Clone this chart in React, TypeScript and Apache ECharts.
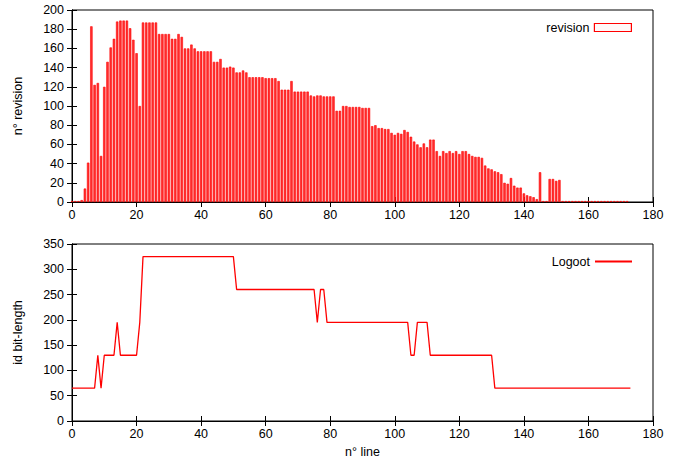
import React, { useEffect, useRef } from "react";
import * as echarts from "echarts";

// revision count per line (line index 0..172)
const revisionValues = [
  1, 1, 1, 2, 14, 41, 183, 122, 124, 48,
  120, 146, 161, 170, 188, 189, 189, 189, 181, 169,
  155, 100, 187, 187, 187, 187, 187, 175, 175, 175,
  175, 170, 170, 175, 172, 160, 160, 164, 160, 157,
  157, 157, 157, 157, 146, 146, 149, 140, 140, 141,
  140, 135, 135, 137, 135, 130, 130, 130, 130, 130,
  129, 129, 129, 129, 126, 117, 117, 117, 126, 115,
  115, 115, 115, 115, 111, 110, 111, 111, 110, 110,
  110, 110, 95, 95, 100, 100, 99, 99, 99, 99,
  98, 98, 98, 79, 80, 77, 77, 76, 76, 72,
  70, 72, 71, 75, 73, 68, 63, 60, 57, 61,
  57, 65, 65, 53, 48, 53, 51, 53, 51, 53,
  50, 53, 53, 50, 48, 47, 47, 46, 38, 35,
  34, 32, 31, 29, 20, 19, 25, 17, 15, 15,
  9, 7, 6, 5, 3, 31, 1, 1, 24, 24,
  22, 23, 1, 1, 1, 1, 1, 1, 1, 1,
  1, 1, 1, 1, 1, 1, 1, 1, 1, 1,
  1, 1, 1,
];

// Logoot id bit-length: breakpoints (line, bits)
const logootLines = [0, 7, 8, 9, 10, 13, 14, 15, 20, 21, 22, 50, 51, 75, 76, 77, 78, 79, 104, 105, 106, 107, 110, 111, 130, 131, 173];
const logootBits = [65, 65, 130, 65, 130, 130, 195, 130, 130, 195, 325, 325, 260, 260, 195, 260, 260, 195, 195, 130, 130, 195, 195, 130, 130, 65, 65];

const FONT = "'Liberation Sans', Arial, sans-serif";

export default function App() {
  const ref = useRef<HTMLDivElement>(null);
  useEffect(() => {
    const chart = echarts.init(ref.current!, null, { renderer: "svg" });
    const label = { color: "#000", fontSize: 12.5, fontFamily: FONT };
    const tick = { show: true, inside: true, length: 5, lineStyle: { color: "#000" } };
    const line = { show: true, lineStyle: { color: "#000", width: 1 } };
    const xBase = (gridIndex: number) => ({
      type: "value",
      gridIndex,
      min: 0,
      max: 180,
      interval: 20,
      splitLine: { show: false },
      axisLine: line,
      axisTick: tick,
    });
    const option: any = {
      animation: false,
      textStyle: { fontFamily: FONT },
      grid: [
        { left: 72, top: 10, width: 581, height: 192, show: true, borderColor: "#000", borderWidth: 1 },
        { left: 72, top: 244, width: 581, height: 177, show: true, borderColor: "#000", borderWidth: 1 },
      ],
      xAxis: [
        { ...xBase(0), position: "bottom", axisLabel: { ...label, margin: 6 } },
        { ...xBase(0), position: "top", axisLabel: { show: false } },
        {
          ...xBase(1),
          position: "bottom",
          axisLabel: { ...label, margin: 6 },
          name: "n° line",
          nameLocation: "middle",
          nameGap: 24,
          nameTextStyle: { ...label },
        },
        { ...xBase(1), position: "top", axisLabel: { show: false } },
      ],
      yAxis: [
        {
          type: "value",
          gridIndex: 0,
          min: 0,
          max: 200,
          interval: 20,
          position: "left",
          splitLine: { show: false },
          axisLine: line,
          axisTick: tick,
          axisLabel: { ...label, margin: 8 },
          name: "n° revision",
          nameLocation: "middle",
          nameGap: 48,
          nameTextStyle: { ...label },
        },
        {
          type: "value",
          gridIndex: 0,
          min: 0,
          max: 200,
          interval: 20,
          position: "right",
          splitLine: { show: false },
          axisLine: line,
          axisTick: tick,
          axisLabel: { show: false },
        },
        {
          type: "value",
          gridIndex: 1,
          min: 0,
          max: 350,
          interval: 50,
          position: "left",
          splitLine: { show: false },
          axisLine: line,
          axisTick: tick,
          axisLabel: { ...label, margin: 8 },
          name: "id bit-length",
          nameLocation: "middle",
          nameGap: 48,
          nameTextStyle: { ...label },
        },
        {
          type: "value",
          gridIndex: 1,
          min: 0,
          max: 350,
          interval: 50,
          position: "right",
          splitLine: { show: false },
          axisLine: line,
          axisTick: tick,
          axisLabel: { show: false },
        },
      ],
      legend: [
        {
          data: [{ name: "revision" }],
          right: 41,
          top: 16,
          align: "right",
          itemWidth: 37,
          itemHeight: 8,
          itemGap: 8,
          icon: "rect",
          itemStyle: { color: "#fff8f8", borderColor: "#ff0000", borderWidth: 1.2 },
          textStyle: { ...label },
        },
        {
          data: [{ name: "Logoot" }],
          right: 41,
          top: 250,
          align: "right",
          itemWidth: 37,
          itemHeight: 2,
          icon: "rect",
          itemStyle: { color: "#ff0000", borderWidth: 0 },
          textStyle: { ...label },
        },
      ],
      series: [
        {
          name: "revision",
          type: "bar",
          xAxisIndex: 0,
          yAxisIndex: 0,
          barWidth: 2.4,
          data: revisionValues.map((v, i) => [i, v]),
          itemStyle: { color: "#ff3030", borderColor: "#ff0000", borderWidth: 0.6 },
        },
        {
          name: "Logoot",
          type: "line",
          xAxisIndex: 2,
          yAxisIndex: 2,
          symbol: "none",
          data: logootLines.map((x, i) => [x, logootBits[i]]),
          lineStyle: { color: "#ff0000", width: 1.3 },
          itemStyle: { color: "#ff0000" },
        },
      ],
    };
    chart.setOption(option);
    return () => chart.dispose();
  }, []);
  return <div ref={ref} style={{ width: 678, height: 464, position: "absolute", left: 0, top: 0 }} />;
}
